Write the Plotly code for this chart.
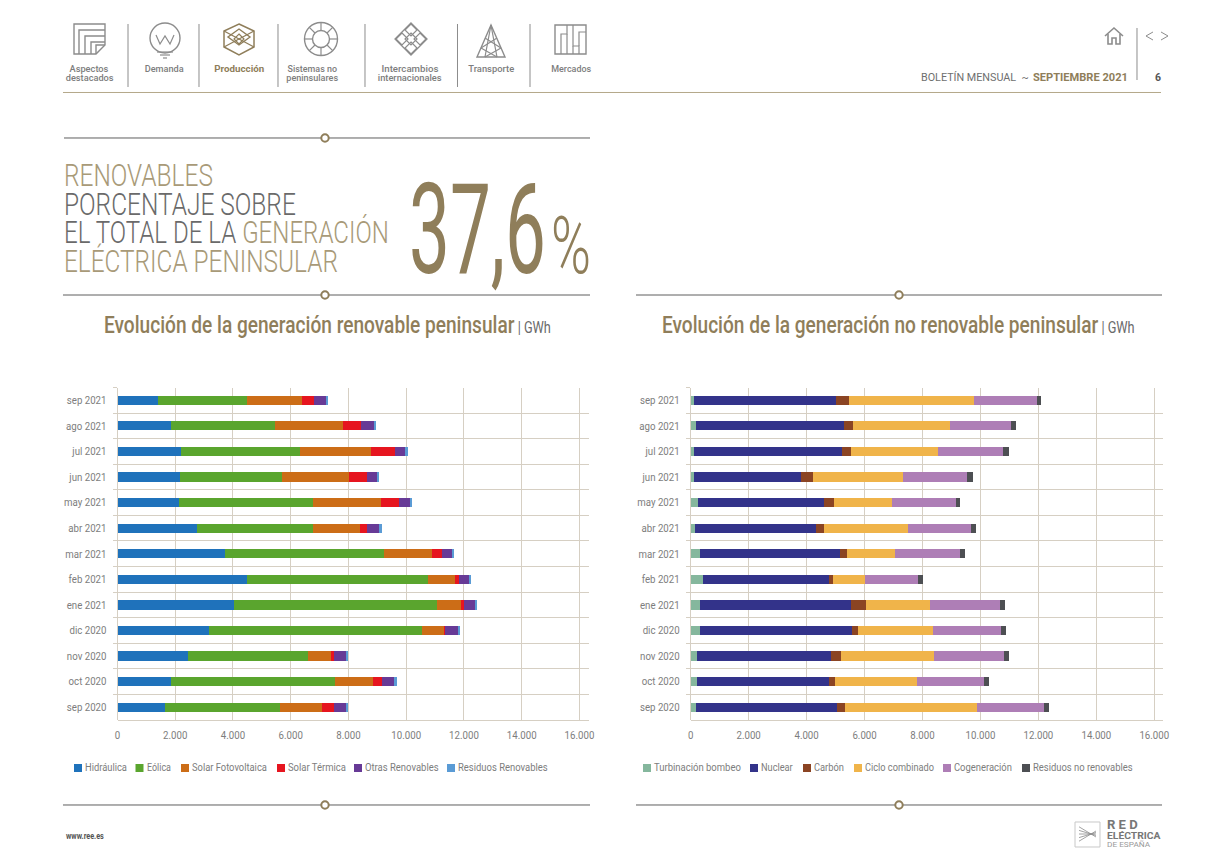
#Boletin mensual page: two stacked bar charts of peninsular generation
import json
import math
import plotly.graph_objects as go

W = 1224
H = 866

meses = ['sep 2021', 'ago 2021', 'jul 2021', 'jun 2021', 'may 2021', 'abr 2021', 'mar 2021',
         'feb 2021', 'ene 2021', 'dic 2020', 'nov 2020', 'oct 2020', 'sep 2020']
x_ticks = [0, 2000, 4000, 6000, 8000, 10000, 12000, 14000, 16000]

#Renovable, GWh
names_ren = ['Hidráulica', 'Eólica', 'Solar Fotovoltaica', 'Solar Térmica', 'Otras Renovables', 'Residuos Renovables']
hidraulica = [1386, 1859, 2205, 2159, 2136, 2748, 3718, 4492, 4042, 3164, 2448, 1859, 1651]
eolica = [3106, 3603, 4100, 3545, 4631, 4030, 5520, 6247, 7032, 7390, 4146, 5681, 3984]
fotovoltaica = [1882, 2356, 2471, 2310, 2355, 1617, 1640, 947, 820, 751, 796, 1305, 1444]
termica = [439, 623, 843, 612, 636, 254, 346, 150, 92, 46, 116, 324, 427]
otras = [393, 439, 346, 369, 381, 416, 358, 335, 393, 450, 404, 415, 404]
residuos_ren = [69, 69, 93, 70, 69, 80, 69, 81, 69, 70, 69, 81, 69]

#No renovable, GWh
names_noren = ['Turbinación bombeo', 'Nuclear', 'Carbón', 'Ciclo combinado', 'Cogeneración', 'Residuos no renovables']
bombeo = [115, 173, 115, 115, 242, 150, 322, 414, 322, 322, 207, 230, 173]
nuclear = [4902, 5132, 5121, 3694, 4372, 4177, 4845, 4362, 5213, 5259, 4626, 4546, 4879]
carbon = [461, 299, 288, 414, 334, 287, 241, 138, 529, 207, 357, 207, 287]
ciclo = [4315, 3337, 3015, 3119, 2002, 2877, 1635, 1104, 2187, 2578, 3210, 2819, 4546]
cogeneracion = [2152, 2118, 2255, 2209, 2210, 2187, 2267, 1842, 2428, 2347, 2406, 2325, 2301]
residuos_noren = [161, 184, 207, 184, 150, 184, 161, 149, 184, 173, 172, 161, 185]

#Styles and legend placement
colors_ren = ['#1f72bb', '#5aa52e', '#cc6d17', '#e6151f', '#673a96', '#5a9bd5']
colors_noren = ['#85b79d', '#33338a', '#8b4423', '#f0b44a', '#ae7eb6', '#4d4f53']
legend_x_ren = [74, 135.5, 181, 277, 354, 447]
legend_w_ren = [42, 24, 75, 58, 74, 90]
legend_x_noren = [643, 750, 803, 854, 943, 1022]
legend_w_noren = [87, 32, 30, 69, 58, 100]

FONT = 'Roboto, sans-serif'
GOLD = '#8f7e5a'
LIGHT_GOLD = '#a89a78'
GRAY = '#7d7d7d'
GRID = '#d6cfc3'
ICON = '#8c8c8c'

fig = go.Figure()
shapes = []
notes = []
note_widths = []


def px(x):
    return x / W


def py(y):
    return 1 - y / H


def line(points, color=GRAY, width=1.2, closed=False):
    d = 'M' + 'L'.join(f'{px(a):.5f},{py(b):.5f}' for a, b in points)
    shapes.append(dict(type='path', xref='paper', yref='paper', path=d + ('Z' if closed else ''),
                       line=dict(color=color, width=width)))


def circle(cx, cy, r, color=GRAY, width=1.2, fill='rgba(0,0,0,0)'):
    shapes.append(dict(type='circle', xref='paper', yref='paper', x0=px(cx - r), x1=px(cx + r),
                       y0=py(cy + r), y1=py(cy - r), line=dict(color=color, width=width), fillcolor=fill))


def box(x0, y0, x1, y1, color):
    shapes.append(dict(type='rect', xref='paper', yref='paper', x0=px(x0), x1=px(x1), y0=py(y1), y1=py(y0),
                       line=dict(width=0), fillcolor=color))


#target is the width in pixels the text is squeezed to, the page font is a condensed one
def text(x, y, s, size, color=GRAY, anchor='left', target=0, weight=400):
    notes.append(dict(xref='paper', yref='paper', x=px(x), y=py(y), text=s, showarrow=False, xanchor=anchor,
                      yanchor='middle', borderpad=0, align=anchor,
                      font=dict(family=FONT, size=size, color=color, weight=weight)))
    note_widths.append(target)


def separator(x0, x1, cx, y):
    line([(x0, y), (x1, y)], '#4d4d4d', 0.9)
    circle(cx, y, 3.7, GOLD, 2, 'white')


def add_chart(names, values, colors, legend_x, legend_w, xaxis, yaxis, x0, x1, top, bottom, x_max):
    for name, vals, color, lx, lw in zip(names, values, colors, legend_x, legend_w):
        fig.add_trace(go.Bar(y=meses, x=vals, name=name, orientation='h', xaxis=xaxis, yaxis=yaxis,
                             marker=dict(color=color, line=dict(width=0)), showlegend=False))
        box(lx, 764, lx + 8, 772, color)
        text(lx + 10, 767.5, name, 11, target=lw)
    axis_x = dict(domain=[px(x0), px(x1)], range=[0, x_max], tickvals=x_ticks, tickformat=',d', anchor=yaxis,
                  showgrid=True, gridcolor=GRID, gridwidth=1.3, zeroline=True, zerolinecolor=GRID, zerolinewidth=1.3,
                  showline=True, linecolor=GRID, linewidth=1.3, ticks='', ticklabelstandoff=5,
                  tickfont=dict(family=FONT, size=11, color=GRAY))
    axis_y = dict(domain=[py(bottom), py(top)], type='category', autorange='reversed', anchor=xaxis,
                  tickson='boundaries', ticks='outside', ticklen=4, tickcolor=GRID, tickwidth=1.3,
                  showgrid=True, gridcolor=GRID, gridwidth=1.3, ticklabelstandoff=10,
                  tickfont=dict(family=FONT, size=11, color=GRAY))
    fig.layout[xaxis.replace('x', 'xaxis')] = axis_x
    fig.layout[yaxis.replace('y', 'yaxis')] = axis_y


add_chart(names_ren, [hidraulica, eolica, fotovoltaica, termica, otras, residuos_ren], colors_ren,
          legend_x_ren, legend_w_ren, 'x', 'y', 117.5, 588.7, 387.5, 720, 16320)
add_chart(names_noren, [bombeo, nuclear, carbon, ciclo, cogeneracion, residuos_noren], colors_noren,
          legend_x_noren, legend_w_noren, 'x2', 'y2', 690.7, 1162.7, 387.5, 720, 16290)

#Page header
line([(63, 92.5), (1161, 92.5)], '#b5a88a', 1)
for x in [128, 199, 278, 365, 457.5, 530]:
    line([(x, 24), (x, 87)], '#8c8c8c', 1)
nav = [(89, [('Aspectos', 39), ('destacados', 48)]), (164, [('Demanda', 39)]),
       (312, [('Sistemas no', 50), ('peninsulares', 52)]), (410, [('Intercambios', 57), ('internacionales', 64)]),
       (491, [('Transporte', 46)]), (571, [('Mercados', 40)])]
for x, rows in nav:
    for i, (row, w) in enumerate(rows):
        text(x, 68 + 9 * i, row, 9.5, GRAY, 'center', w, 500)
text(239, 68, '<b>Producción</b>', 9.5, GOLD, 'center', 50)

#Aspectos destacados
line([(74, 24), (105, 24), (105, 45), (96, 54), (74, 54)], ICON, 1.4, True)
line([(79, 54), (79, 30), (105, 30)], ICON, 1.4)
line([(85, 54), (85, 36), (105, 36)], ICON, 1.4)
line([(91, 54), (91, 42), (105, 42)], ICON, 1.4)
line([(96, 54), (96, 45), (105, 45)], ICON, 1.4)
#Demanda
circle(165, 38, 15, ICON, 1.4)
line([(156, 35), (160, 44), (165, 36), (170, 44), (174, 35)], ICON, 1.2)
line([(157, 52), (173, 52)], ICON, 1.2)
line([(160, 55), (170, 55)], ICON, 1.2)
line([(163, 58), (167, 58)], ICON, 1.2)
#Produccion
line([(239, 24), (254, 31), (254, 47), (239, 55), (224, 47), (224, 31)], GOLD, 1.5, True)
line([(224, 31), (254, 47)], GOLD, 1.4)
line([(254, 31), (224, 47)], GOLD, 1.4)
line([(239, 29), (250, 37), (239, 45), (228, 37)], GOLD, 1.4, True)
line([(239, 34), (244, 39), (239, 44), (234, 39)], GOLD, 1.2, True)
#Sistemas no peninsulares
circle(321, 39, 16.5, ICON, 1.4)
circle(321, 39, 8.5, ICON, 1.4)
for i in range(8):
    a = math.pi * i / 4
    line([(321 + 8.5 * math.cos(a), 39 + 8.5 * math.sin(a)), (321 + 16.5 * math.cos(a), 39 + 16.5 * math.sin(a))], ICON, 1.2)
#Intercambios
line([(411, 23), (427, 39), (411, 55), (395, 39)], ICON, 1.3, True)
for cx, cy in [(411, 30), (411, 39), (411, 48), (402, 39), (420, 39)]:
    line([(cx, cy - 6), (cx + 6, cy), (cx, cy + 6), (cx - 6, cy)], ICON, 1.2, True)
#Transporte
line([(491, 25), (477, 57), (505, 57)], ICON, 1.4, True)
line([(491, 25), (485, 57)], ICON, 1.2)
line([(491, 25), (497, 57)], ICON, 1.2)
line([(481, 48), (497, 57)], ICON, 1.2)
line([(501, 48), (485, 57)], ICON, 1.2)
line([(485, 38), (501, 48)], ICON, 1.2)
line([(497, 38), (481, 48)], ICON, 1.2)
#Mercados
line([(555, 25), (586, 25), (586, 54), (555, 54)], ICON, 1.4, True)
line([(561, 54), (561, 34), (567, 34), (567, 25)], ICON, 1.2)
line([(567, 54), (567, 34)], ICON, 1.2)
line([(573, 25), (573, 46), (579, 46), (579, 54)], ICON, 1.2)
line([(573, 46), (573, 54)], ICON, 1.2)
line([(579, 46), (579, 32), (586, 32)], ICON, 1.2)

#Home, arrows and page title
line([(1105, 36), (1114, 28), (1123, 36)], ICON, 1.6)
line([(1108, 34), (1108, 44), (1112, 44), (1112, 38), (1116, 38), (1116, 44), (1120, 44), (1120, 34)], ICON, 1.6)
line([(1137, 28), (1137, 80)], '#8c8c8c', 1)
line([(1153, 32), (1146, 36), (1153, 40)], ICON, 1)
line([(1161, 32), (1168, 36), (1161, 40)], ICON, 1)
text(920, 77, 'BOLETÍN MENSUAL  ~', 10.5, '#6f6f6f', target=108)
text(1032, 77, '<b>SEPTIEMBRE 2021</b>', 10.5, GOLD, target=95)
text(1158, 78, '<b>6</b>', 10.5, '#555555', 'center')

#Headline
separator(64, 590, 325, 138)
separator(63, 590, 325, 295)
separator(636, 1162, 899, 295)
separator(63, 590, 325, 805)
separator(636, 1162, 899, 805)
text(63, 175, 'RENOVABLES', 32, LIGHT_GOLD, target=149, weight=300)
text(63, 204, 'PORCENTAJE SOBRE', 32, '#6a6a6a', target=232, weight=300)
text(63, 232, f'EL TOTAL DE LA <span style="color:{LIGHT_GOLD}">GENERACIÓN</span>', 32, '#6a6a6a', target=325, weight=300)
text(63, 261, 'ELÉCTRICA PENINSULAR', 32, LIGHT_GOLD, target=274, weight=300)
text(408, 230, '37,6', 126, GOLD, target=137, weight=400)
text(550, 246, '%', 80, GOLD, target=40, weight=300)

#Chart titles
text(103, 325, 'Evolución de la generación renovable peninsular'
     '<span style="font-size:16px;color:#6a6a6a;font-weight:400"> | GWh</span>', 24, GOLD, target=447, weight=500)
text(661, 325, 'Evolución de la generación no renovable peninsular'
     '<span style="font-size:16px;color:#6a6a6a;font-weight:400"> | GWh</span>', 24, GOLD, target=473, weight=500)

#Footer
text(65, 835, '<b>www.ree.es</b>', 9.5, '#555555', target=38)
line([(1075, 822), (1100, 822), (1100, 847), (1075, 847)], '#c8c8c8', 1, True)
for dy in [-6, -3, 0, 3, 6]:
    line([(1079, 834 + dy * 1.2), (1096, 834 - dy * 0.5)], '#8c8c8c', 0.8)
text(1106, 825, '<b>R E D</b>', 12, '#777777', target=31)
text(1106, 835, '<b>ELÉCTRICA</b>', 8.5, '#777777', target=54)
text(1106, 844, 'DE ESPAÑA', 8, '#999999', target=44)

fig.update_layout(barmode='stack', bargap=0.64, width=W, height=H,
                  margin=dict(l=0, r=0, t=0, b=0, autoexpand=False),
                  separators=',.', paper_bgcolor='white', plot_bgcolor='white', showlegend=False,
                  shapes=shapes, annotations=notes)

#Squeeze the texts sideways around their own anchor
squeeze = """
document.body.style.margin = '0';
function squeeze(t, k) {
    var x = parseFloat(t.getAttribute('x')) || 0;
    var old = t.getAttribute('transform') || '';
    t.setAttribute('transform', old + ' translate(' + x + ' 0) scale(' + k + ' 1) translate(' + (-x) + ' 0)');
}
var widths = %s;
document.querySelectorAll('.annotation').forEach(function (g) {
    var w = widths[+g.getAttribute('data-index')];
    var t = g.querySelector('.annotation-text');
    if (w && t) { squeeze(t, w / t.getBBox().width); }
});
document.querySelectorAll('.xtick text, .x2tick text, .ytick text, .y2tick text').forEach(function (t) {
    squeeze(t, 0.88);
});
""" % json.dumps(note_widths)

fig.write_html("out.html", config=dict(displayModeBar=False), post_script=squeeze)
